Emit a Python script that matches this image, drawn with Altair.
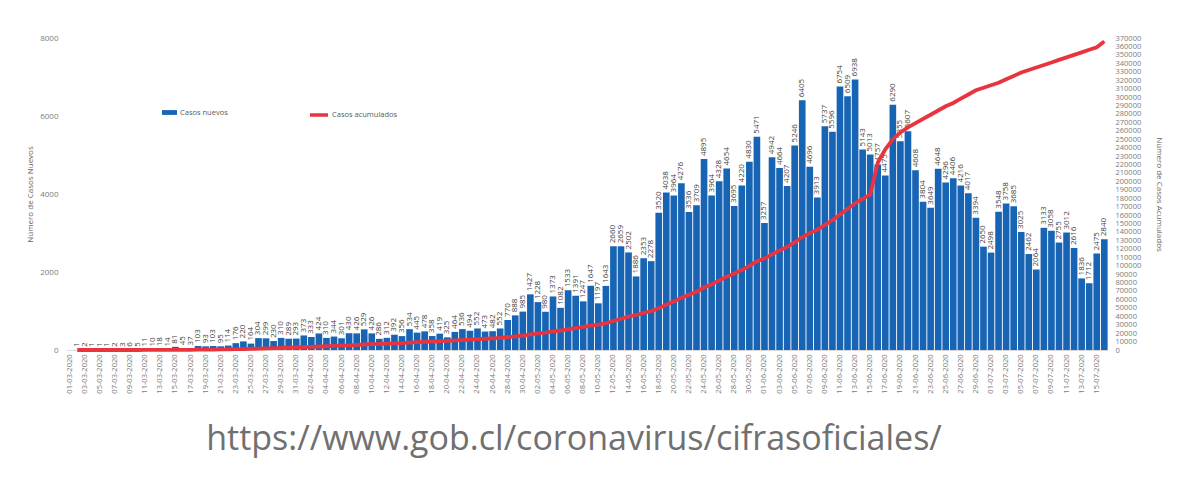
import altair as alt
import pandas as pd
import datetime as dt

FONT = "Open Sans"

# Categories: daily dates 01-03-2020 .. 16-07-2020
start = dt.date(2020, 3, 1)
fechas = [(start + dt.timedelta(days=i)).strftime("%d-%m-%Y") for i in range(138)]
tick_fechas = fechas[::2]

# Casos nuevos (01-03 has no bar)
casos_nuevos = [None,
    1, 2, 1, 1, 1, 2, 3, 6, 5, 11, 10, 18, 14, 81, 45, 37, 103, 93, 103, 95,
    114, 176, 220, 164, 304, 299, 230, 310, 289, 293, 373, 333, 424, 310, 344,
    301, 430, 426, 529, 426, 286, 312, 392, 356, 534, 445, 478, 358, 419, 325,
    464, 536, 494, 552, 473, 482, 552, 770, 888, 985, 1427, 1228, 980, 1373,
    1082, 1533, 1391, 1247, 1647, 1197, 1643, 2660, 2659, 2502, 1886, 2353,
    2278, 3520, 4038, 3964, 4276, 3536, 3709, 4895, 3964, 4328, 4654, 3695,
    4220, 4830, 5471, 3257, 4942, 4664, 4207, 5246, 6405, 4696, 3913, 5737,
    5596, 6754, 6509, 6938, 5143, 5013, 4757, 4475, 6290, 5355, 5607, 4608,
    3804, 3649, 4648, 4296, 4406, 4216, 4017, 3394, 2650, 2498, 3548, 3758,
    3685, 3025, 2462, 2064, 3133, 3058, 2755, 3012, 2616, 1836, 1712, 2475, 2840]

# Casos acumulados
casos_acumulados = [None,
    1, 3, 4, 5, 6, 8, 11, 17, 22, 33, 43, 61, 75, 156, 201, 238, 341, 434, 537,
    632, 746, 922, 1142, 1306, 1610, 1909, 2139, 2449, 2738, 3031, 3404, 3737,
    4161, 4471, 4815, 5116, 5546, 5972, 6501, 6927, 7213, 7525, 7917, 8273,
    8807, 9252, 9730, 10088, 10507, 10832, 11296, 11832, 12326, 12878, 13351,
    13833, 14385, 15155, 16043, 17028, 18455, 19683, 20663, 22036, 23118,
    24651, 26042, 27289, 28936, 30133, 31776, 34436, 37095, 39597, 41483,
    43836, 46114, 49634, 53672, 57636, 61912, 65448, 69157, 74052, 78016,
    82344, 86998, 90693, 94913, 99743, 105214, 108471, 113413, 118077, 122284,
    127530, 133935, 138631, 142544, 148281, 153877, 160631, 167140, 174078,
    179221, 184234, 222000, 238000, 250000, 258000, 264000, 269000, 274000,
    279000, 284000, 289000, 293000, 298000, 303000, 308000, 311000, 314000,
    317000, 321000, 325000, 329000, 332000, 335000, 338000, 341000, 344000,
    347000, 350000, 353000, 356000, 359000, 366000]

left_ticks = list(range(0, 8001, 1000))
right_ticks = list(range(0, 370001, 10000))

df = pd.DataFrame({"fecha": fechas, "nuevos": casos_nuevos, "acumulados": casos_acumulados})

BLUE = "#1764b4"
RED = "#e8343f"
GREY = "#7a7a7a"

x_scale = alt.Scale(domain=fechas, paddingInner=0.12, paddingOuter=0.05)

x_enc = alt.X("fecha:N", sort=fechas, title=None, scale=x_scale,
              axis=alt.Axis(values=tick_fechas, labelAngle=270, labelFontSize=7.5,
                            labelColor=GREY, labelFont=FONT, ticks=False,
                            domainColor="#d9d9d9", labelPadding=4, labelOverlap=False))

base = alt.Chart(df)

bars = base.transform_filter("isValid(datum.nuevos)").transform_calculate(
    serie="'Casos nuevos'").mark_bar().encode(
    x=x_enc,
    y=alt.Y("nuevos:Q", scale=alt.Scale(domain=[0, 8000], nice=False),
            title="Número de Casos Nuevos",
            axis=alt.Axis(values=left_ticks, format="d", grid=False, domain=False, ticks=False,
                          labelFontSize=8, labelColor=GREY, labelFont=FONT,
                          labelPadding=8, titleFontSize=8, titleColor="#666666",
                          titleFont=FONT, titleFontWeight="normal", titlePadding=5)),
    color=alt.Color("serie:N", scale=alt.Scale(domain=["Casos nuevos"], range=[BLUE]),
                    legend=alt.Legend(title=None, orient="none", legendX=95, legendY=66,
                                      symbolType="M-1,-0.32H1V0.32H-1Z", symbolSize=225,
                                      labelFontSize=7.5, labelColor="#595959", labelFont=FONT,
                                      labelOffset=2))
)

labels = base.transform_filter("isValid(datum.nuevos)").mark_text(
    angle=270, align="left", baseline="middle", dx=3, fontSize=8,
    color="#404040", font=FONT).encode(
    x=alt.X("fecha:N", sort=fechas, scale=x_scale),
    y=alt.Y("nuevos:Q", scale=alt.Scale(domain=[0, 8000], nice=False)),
    text=alt.Text("nuevos:Q", format="d"),
)

line = base.transform_filter("isValid(datum.acumulados)").transform_calculate(
    serie2="'Casos acumulados'").mark_line(strokeWidth=3.8).encode(
    x=alt.X("fecha:N", sort=fechas, scale=x_scale),
    y=alt.Y("acumulados:Q", scale=alt.Scale(domain=[0, 370000], nice=False),
            title="Número de Casos Acumulados",
            axis=alt.Axis(orient="right", values=right_ticks, format="d", grid=False,
                          domain=False, ticks=False, labelFontSize=7.5, labelColor=GREY,
                          labelFont=FONT, labelPadding=7, labelOverlap=False,
                          titleFontSize=8, titleColor="#666666", titleFont=FONT,
                          titleFontWeight="normal", titlePadding=14)),
    stroke=alt.Stroke("serie2:N", scale=alt.Scale(domain=["Casos acumulados"], range=[RED]),
                      legend=alt.Legend(title=None, orient="none", legendX=242, legendY=66,
                                        symbolType="stroke", symbolSize=324,
                                        symbolStrokeWidth=3.5,
                                        labelFontSize=7.5, labelColor="#595959",
                                        labelFont=FONT, labelOffset=2)),
)

chart = alt.layer(alt.layer(bars, labels), line).resolve_scale(
    y="independent", color="independent"
).properties(
    width=1042, height=312,
    padding={"left": 18, "top": 25, "right": 5, "bottom": 5},
    title=alt.TitleParams("https://www.gob.cl/coronavirus/cifrasoficiales/",
                          orient="bottom", anchor="middle", fontSize=34, font=FONT,
                          fontWeight="normal", color="#707070", offset=30, dx=-13),
).configure_view(stroke=None)

chart.save("out.html", embed_options={"renderer": "svg", "actions": False})
